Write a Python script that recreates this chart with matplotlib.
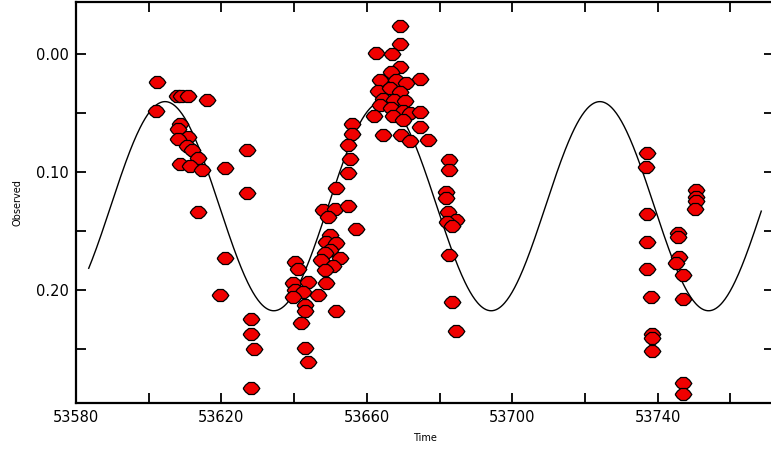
import numpy as np
import matplotlib
matplotlib.use("Agg")
import matplotlib.pyplot as plt

# observed data (time, value)
time_obs = [
    53602.2, 53601.9, 53607.7, 53609.0, 53610.9, 53615.9,
    53608.6, 53608.1, 53610.9, 53608.1, 53610.4, 53611.8, 53613.6, 53608.6, 53611.3, 53614.7,
    53626.9, 53620.9, 53626.9, 53613.6, 53620.9, 53619.7, 53628.0, 53628.0, 53629.0, 53628.0,
    53656.0, 53656.0, 53654.8, 53655.5, 53654.8, 53651.6, 53647.9, 53651.2, 53654.8, 53649.3,
    53656.9, 53649.8, 53648.9, 53651.6, 53649.8, 53648.4, 53640.2, 53641.1, 53647.5, 53652.5,
    53650.7, 53648.4, 53639.7, 53643.8, 53648.9, 53640.2, 53642.5, 53646.6, 53639.7, 53642.9,
    53642.9, 53651.6, 53642.0, 53642.9, 53643.8,
    53669.0, 53669.0, 53662.4, 53666.9, 53669.0, 53674.5, 53666.7, 53663.5, 53668.1, 53670.9,
    53663.0, 53666.3, 53669.0, 53664.4, 53667.6, 53670.4, 53663.5, 53666.7, 53669.9, 53671.8,
    53674.5, 53662.1, 53667.2, 53669.9, 53674.5, 53664.4, 53669.5, 53671.8, 53676.8,
    53682.7, 53682.7, 53681.8, 53681.8, 53682.3, 53684.6, 53682.0, 53683.3, 53682.7, 53683.5, 53684.6,
    53737.2, 53736.8, 53737.2, 53737.2, 53737.2, 53738.2, 53738.4, 53738.4, 53738.4,
    53745.5, 53745.5, 53745.8, 53745.1, 53747.0, 53747.0, 53747.0, 53747.0,
    53750.5, 53750.5, 53750.5, 53750.3,
]
value_obs = [
    0.024, 0.048, 0.036, 0.036, 0.036, 0.039,
    0.059, 0.064, 0.070, 0.072, 0.078, 0.081, 0.088, 0.093, 0.095, 0.098,
    0.081, 0.097, 0.118, 0.134, 0.173, 0.204, 0.225, 0.237, 0.250, 0.283,
    0.059, 0.068, 0.077, 0.089, 0.101, 0.114, 0.132, 0.131, 0.129, 0.138,
    0.148, 0.153, 0.159, 0.160, 0.166, 0.169, 0.176, 0.182, 0.175, 0.173,
    0.180, 0.183, 0.194, 0.193, 0.194, 0.200, 0.202, 0.204, 0.206, 0.213,
    0.218, 0.218, 0.228, 0.249, 0.261,
    -0.024, -0.008, -0.001, 0.000, 0.011, 0.021, 0.015, 0.022, 0.022, 0.025,
    0.031, 0.029, 0.032, 0.038, 0.039, 0.040, 0.043, 0.046, 0.048, 0.050,
    0.049, 0.053, 0.053, 0.056, 0.062, 0.069, 0.069, 0.074, 0.073,
    0.090, 0.098, 0.117, 0.122, 0.134, 0.141, 0.142, 0.146, 0.170, 0.210, 0.235,
    0.084, 0.096, 0.136, 0.159, 0.182, 0.206, 0.237, 0.241, 0.252,
    0.152, 0.155, 0.172, 0.177, 0.187, 0.208, 0.279, 0.288,
    0.115, 0.121, 0.125, 0.131,
]

# fitted sinusoidal model parameters
fit_mean = 0.129
fit_amplitude = 0.0886
fit_period = 59.8
fit_peak_time = 53604.5
fit_start = 53583.5
fit_end = 53768.5

x_ticks = [53580, 53600, 53620, 53640, 53660, 53680, 53700, 53720, 53740, 53760]
x_labels = ["53580", "", "53620", "", "53660", "", "53700", "", "53740", ""]
y_ticks = [0.00, 0.05, 0.10, 0.15, 0.20, 0.25]
y_labels = ["0.00", "", "0.10", "", "0.20", ""]

fig = plt.figure(figsize=(7.71, 4.54), dpi=100)
ax = fig.add_axes([76 / 771, 1 - 402.7 / 454, (774 - 76) / 771, (402.7 - 2) / 454])

t_model = np.linspace(fit_start, fit_end, 800)
v_model = fit_mean - fit_amplitude * np.cos(2 * np.pi * (t_model - fit_peak_time) / fit_period)
ax.plot(t_model, v_model, color="black", lw=1.0, zorder=2)

marker_shape = [(-0.5, 0.0), (-0.36, -0.2), (-0.16, -0.36), (0.16, -0.36), (0.36, -0.2),
                (0.5, 0.0), (0.36, 0.2), (0.16, 0.36), (-0.16, 0.36), (-0.36, 0.2), (-0.5, 0.0)]
ax.plot(time_obs, value_obs, linestyle="none", marker=marker_shape, markersize=12,
        markerfacecolor="#f00000", markeredgecolor="black", markeredgewidth=0.9, zorder=3)

ax.set_xlim(53580, 53772)
ax.set_ylim(0.2955, -0.044)

ax.set_xticks(x_ticks)
ax.set_xticklabels(x_labels)
ax.set_yticks(y_ticks)
ax.set_yticklabels(y_labels)
ax.tick_params(direction="in", length=7, width=1.3, top=True, right=True,
               labelsize=10.5, pad=5)
for s in ax.spines.values():
    s.set_linewidth(1.6)

ax.set_xlabel("Time", fontsize=7, labelpad=6)
ax.set_ylabel("Observed", fontsize=7, labelpad=10)

fig.savefig("out.png", dpi=100)
